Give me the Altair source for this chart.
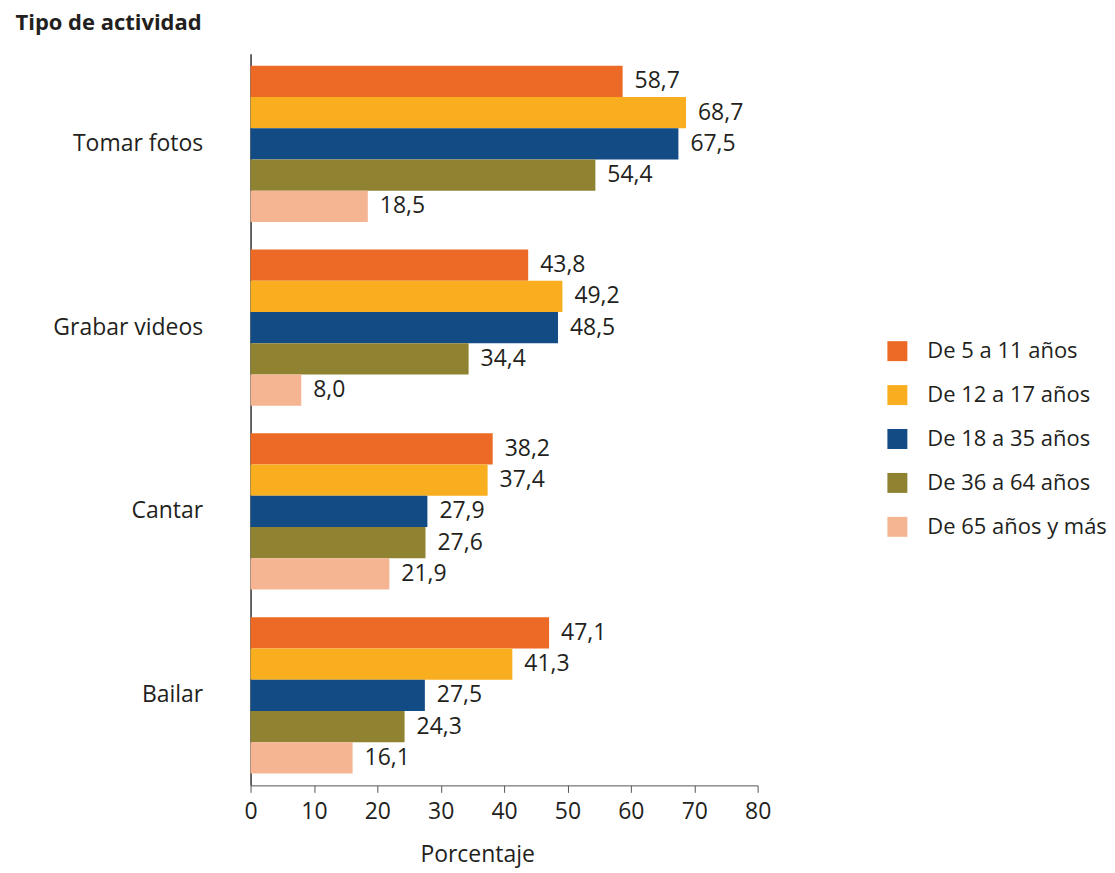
import altair as alt
import pandas as pd

categories = ["Tomar fotos", "Grabar videos", "Cantar", "Bailar"]
groups = ["De 5 a 11 años", "De 12 a 17 años", "De 18 a 35 años", "De 36 a 64 años", "De 65 años y más"]
colors = ["#EC6A25", "#F9AE1F", "#134B85", "#8F8332", "#F5B592"]

v_5_11 = [58.7, 43.8, 38.2, 47.1]
v_12_17 = [68.7, 49.2, 37.4, 41.3]
v_18_35 = [67.5, 48.5, 27.9, 27.5]
v_36_64 = [54.4, 34.4, 27.6, 24.3]
v_65 = [18.5, 8.0, 21.9, 16.1]
series = [v_5_11, v_12_17, v_18_35, v_36_64, v_65]

rows = []
for g, vals in zip(groups, series):
    for c, v in zip(categories, vals):
        rows.append({"cat": c, "grupo": g, "valor": v,
                     "etiqueta": f"{v:.1f}".replace(".", ",")})
df = pd.DataFrame(rows)

FONT = "Open Sans"
TXT = "#231f20"
FS = 23

y_enc = alt.Y("cat:N", sort=categories,
              scale=alt.Scale(paddingInner=0.15, paddingOuter=0.065),
              axis=alt.Axis(title="Tipo de actividad", titleAngle=0, titleAlign="left",
                            titleBaseline="top", titleX=-236, titleY=-41,
                            titleFontSize=22, titleFontWeight="bold", titleColor=TXT,
                            titleFont=FONT, labelFont=FONT, labelFontSize=FS,
                            labelColor=TXT, labelPadding=48, ticks=False,
                            domainColor="#333333", domainWidth=1.5))
yoff = alt.YOffset("grupo:N", sort=groups, scale=alt.Scale(paddingInner=0, paddingOuter=0))

x_enc = alt.X("valor:Q", scale=alt.Scale(domain=[0, 80], nice=False),
              axis=alt.Axis(title="Porcentaje", values=list(range(0, 81, 10)),
                            grid=False, titleFont=FONT, titleFontSize=FS,
                            titleFontWeight="normal", titleColor=TXT, titleX=227,
                            titlePadding=20, labelFont=FONT, labelFontSize=FS,
                            labelColor=TXT, labelPadding=8, labelFlush=False,
                            tickSize=7, tickColor="#555555", domainColor="#555555"))

bars = alt.Chart(df).mark_bar(height={"band": 1}).encode(
    y=y_enc, yOffset=yoff, x=x_enc,
    color=alt.Color("grupo:N", sort=groups,
                    scale=alt.Scale(domain=groups, range=colors),
                    legend=alt.Legend(title=None, orient="none", legendX=637, legendY=287,
                                      symbolType="square", symbolSize=400,
                                      symbolStrokeWidth=0, labelFont=FONT,
                                      labelFontSize=22, labelColor=TXT,
                                      rowPadding=22, labelOffset=19, labelLimit=300)),
)

labels = alt.Chart(df).mark_text(align="left", baseline="middle", dx=12,
                                 font=FONT, fontSize=FS, color=TXT).encode(
    y=alt.Y("cat:N", sort=categories), yOffset=yoff, x="valor:Q", text="etiqueta:N"
)

chart = alt.layer(bars, labels).properties(
    width=508, height=733,
    padding={"left": 7, "top": 3, "right": 0, "bottom": 6},
).configure_view(stroke=None)

chart.save("out.html", embed_options={"renderer": "svg", "actions": False})
